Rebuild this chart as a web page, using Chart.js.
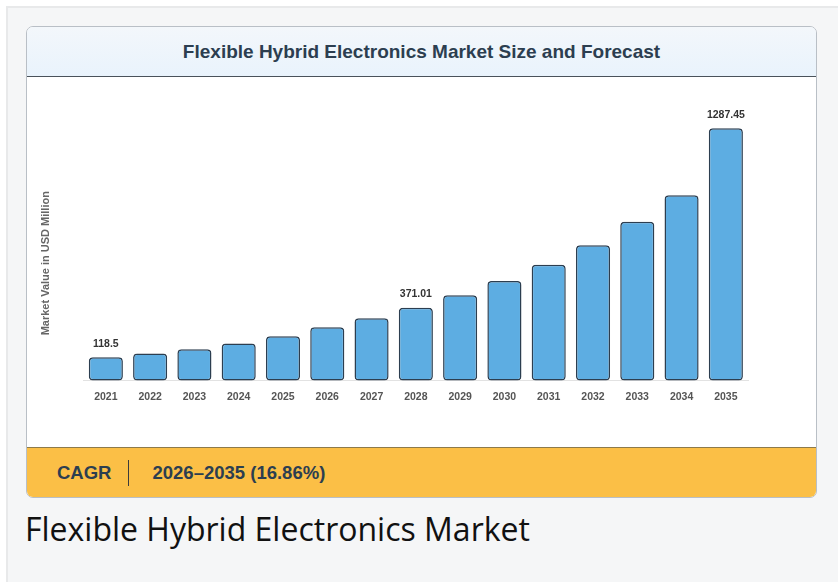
<!DOCTYPE html>
<html>
<head>
<meta charset="utf-8">
<script src="https://cdn.jsdelivr.net/npm/chart.js@4.4.1/dist/chart.umd.min.js"></script>
<style>
  html, body { margin: 0; padding: 0; background: #ffffff; }
  .frame {
    position: absolute; left: 6px; top: 6px; width: 840px; height: 590px;
    background: #f5f6f7; border-left: 2px solid #e8e9ea; border-top: 2px solid #e8e9ea;
  }
  .card {
    position: absolute; left: 26px; top: 26px; width: 789px; height: 470px;
    border: 1px solid #b9bfc6; border-radius: 7px; overflow: hidden; background: #fff;
  }
  .head {
    height: 49px; border-bottom: 1px solid #4a525a;
    background: linear-gradient(#f3f7fb, #e9f3fc);
    text-align: center; font: bold 19px "Liberation Sans", Arial, sans-serif;
    color: #2c3e50; line-height: 49px;
  }
  .plot { position: relative; height: 370px; background: #fff; }
  .band {
    height: 50px; background: #fbbf46; border-top: 1px solid #8d7a4a;
    font: bold 18.5px "Liberation Sans", Arial, sans-serif; color: #2c3e50;
    display: flex; align-items: center;
  }
  .band .k { margin-left: 30px; }
  .band .sep { width: 1px; height: 26px; background: #3b3b3b; margin: 0 23px 0 17px; }
  .caption {
    position: absolute; left: 25px; top: 507px;
    font: 32px "Open Sans", sans-serif; color: #111;
  }
</style>
</head>
<body>
<div class="frame"></div>
<div class="card">
  <div class="head">Flexible Hybrid Electronics Market Size and Forecast</div>
  <div class="plot"><canvas id="marketChart"></canvas></div>
  <div class="band"><span class="k">CAGR</span><span class="sep"></span><span>2026–2035 (16.86%)</span></div>
</div>
<div class="caption">Flexible Hybrid Electronics Market</div>

<script>
const years = ["2021", "2022", "2023", "2024", "2025", "2026", "2027", "2028",
  "2029", "2030", "2031", "2032", "2033", "2034", "2035"];
const marketValues = [118.5, 138, 159, 188, 225, 271, 318, 371.01,
  435, 508, 590, 690, 810, 945, 1287.45];
const labelledYears = ["2021", "2028", "2035"];

const valueLabels = {
  id: "valueLabels",
  afterDatasetsDraw(chart) {
    const ctx = chart.ctx;
    const meta = chart.getDatasetMeta(0);
    ctx.save();
    ctx.font = "bold 10.5px 'Liberation Sans', Arial, sans-serif";
    ctx.fillStyle = "#333";
    ctx.textAlign = "center";
    ctx.textBaseline = "bottom";
    meta.data.forEach(function (bar, i) {
      if (labelledYears.includes(years[i])) {
        ctx.fillText(String(marketValues[i]), bar.x, bar.y - 8);
      }
    });
    ctx.restore();
  }
};

const canvas = document.getElementById("marketChart");
canvas.width = 789;
canvas.height = 370;

new Chart(canvas.getContext("2d"), {
  type: "bar",
  data: {
    labels: years,
    datasets: [{
      data: marketValues,
      backgroundColor: "#5dade2",
      borderColor: "#2c3e50",
      borderWidth: 1.5,
      borderRadius: 4,
      borderSkipped: false,
      categoryPercentage: 1,
      barPercentage: 0.77,
      clip: false
    }]
  },
  options: {
    responsive: false,
    animation: false,
    layout: { padding: { left: 8, right: 68, top: 69, bottom: 34 } },
    plugins: { legend: { display: false }, tooltip: { enabled: false } },
    scales: {
      x: {
        grid: { display: false, drawTicks: false },
        border: { display: true, color: "#e2e2e2", dash: [2, 2] },
        ticks: {
          padding: 10,
          color: "#555",
          font: { family: "'Liberation Sans', Arial, sans-serif", size: 10.5, weight: "bold" }
        }
      },
      y: {
        min: 0,
        max: 1197,
        grid: { display: false, drawTicks: false },
        border: { display: false },
        ticks: { display: false },
        title: {
          display: true,
          text: "Market Value in USD Million",
          color: "#666",
          padding: { top: 4, bottom: 31.5 },
          font: { family: "'Liberation Sans', Arial, sans-serif", size: 11, weight: "bold" }
        }
      }
    }
  },
  plugins: [valueLabels]
});
</script>
</body>
</html>
